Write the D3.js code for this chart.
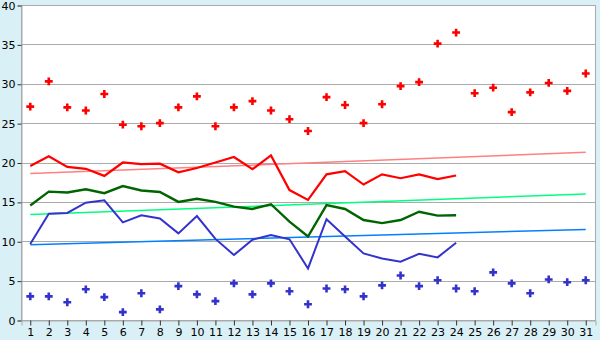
<!DOCTYPE html>
<html>
<head>
<meta charset="utf-8">
<script src="https://cdn.jsdelivr.net/npm/d3@7/dist/d3.min.js"></script>
<style>
  html, body { margin: 0; padding: 0; background: #d9f0f6; }
  svg { display: block; }
  text { font-family: "DejaVu Sans", Verdana, sans-serif; font-size: 11px; fill: #000; }
</style>
</head>
<body>
<svg id="chart" width="600" height="340"></svg>
<script>
// Days of the month
const days = d3.range(1, 32);
const yTicks = [0, 5, 10, 15, 20, 25, 30, 35, 40];

// Daily maximum and minimum readings
const maxPoints = [27.1, 30.3, 27.0, 26.6, 28.7, 24.8, 24.6, 25.0, 27.0, 28.4,
                   24.6, 27.0, 27.8, 26.6, 25.5, 24.0, 28.3, 27.3, 25.0, 27.4,
                   29.7, 30.2, 35.1, 36.5, 28.8, 29.5, 26.4, 28.9, 30.1, 29.1, 31.3];
const minPoints = [3.0, 3.0, 2.25, 3.9, 2.9, 1.0, 3.4, 1.35, 4.3, 3.25,
                   2.4, 4.65, 3.25, 4.65, 3.65, 2.0, 4.0, 3.9, 3.0, 4.4,
                   5.65, 4.3, 5.05, 4.0, 3.65, 6.05, 4.65, 3.4, 5.15, 4.8, 5.05];

// Running lines (first 24 days)
const redLine   = [19.55, 20.8, 19.45, 19.2, 18.3, 20.0, 19.8, 19.85, 18.75, 19.3,
                   20.0, 20.7, 19.15, 20.9, 16.5, 15.25, 18.5, 18.9, 17.2, 18.5,
                   18.0, 18.5, 17.9, 18.35];
const greenLine = [14.55, 16.3, 16.2, 16.6, 16.1, 17.0, 16.45, 16.25, 15.0, 15.4,
                   15.0, 14.4, 14.1, 14.7, 12.5, 10.6, 14.6, 14.1, 12.7, 12.3,
                   12.7, 13.75, 13.25, 13.3];
const blueLine  = [9.65, 13.5, 13.6, 14.9, 15.2, 12.4, 13.3, 12.9, 11.0, 13.2,
                   10.3, 8.25, 10.2, 10.8, 10.25, 6.55, 12.8, 10.6, 8.45, 7.8,
                   7.4, 8.4, 7.95, 9.8];

// Long-term reference lines: [value on day 1, value on day 31]
const redTrend   = [18.6, 21.3];
const greenTrend = [13.4, 16.0];
const blueTrend  = [9.55, 11.5];

const W = 600, H = 340;
const m = { left: 21, top: 5, right: 5, bottom: 20 };
const svg = d3.select("#chart");

const x = d3.scaleBand().domain(days).range([m.left, W - m.right]);
const xc = d => x(d) + x.bandwidth() / 2;
const y = d3.scaleLinear().domain([0, 40]).range([H - m.bottom, m.top]);

// Plot area
svg.append("rect")
  .attr("x", m.left + 0.5).attr("y", m.top + 0.5)
  .attr("width", W - m.left - m.right).attr("height", H - m.top - m.bottom)
  .attr("fill", "#fff").attr("stroke", "#aaa").attr("stroke-width", 1);

// Horizontal grid
svg.append("g").selectAll("line").data(yTicks.filter(v => v > 0 && v < 40)).join("line")
  .attr("x1", m.left).attr("x2", W - m.right)
  .attr("y1", d => Math.round(y(d)) + 0.5).attr("y2", d => Math.round(y(d)) + 0.5)
  .attr("stroke", "#aaa").attr("stroke-width", 1);

// Axes
const yAxis = svg.append("g").attr("transform", `translate(${m.left + 0.5},0.5)`)
  .call(d3.axisLeft(y).tickValues(yTicks).tickSize(4).tickPadding(2));
const xAxis = svg.append("g").attr("transform", `translate(0.5,${H - m.bottom + 0.5})`)
  .call(d3.axisBottom(x).tickSize(5).tickPadding(3));
[yAxis, xAxis].forEach(g => {
  g.select(".domain").attr("stroke", "#aaa");
  g.selectAll(".tick line").attr("stroke", "#333");
  g.selectAll(".tick text").attr("fill", "#000")
    .style("font-family", "DejaVu Sans, Verdana, sans-serif").style("font-size", "11px");
});

// Reference lines
const trend = (vals, color) => svg.append("line")
  .attr("x1", xc(1)).attr("x2", xc(31))
  .attr("y1", y(vals[0])).attr("y2", y(vals[1]))
  .attr("stroke", color).attr("stroke-width", 1.5);
trend(redTrend, "#ff8080");
trend(greenTrend, "#00ff80");
trend(blueTrend, "#0080ff");

// Running lines
const lineGen = d3.line().x((d, i) => xc(days[i])).y(d => y(d));
const drawLine = (vals, color, w) => svg.append("path")
  .datum(vals).attr("d", lineGen)
  .attr("fill", "none").attr("stroke", color).attr("stroke-width", w)
  .attr("stroke-linejoin", "miter");
drawLine(redLine, "#ff0000", 2.2);
drawLine(greenLine, "#006400", 2.4);
drawLine(blueLine, "#3333cc", 2);

// Daily extremes as markers
const sym = d3.symbol().type(d3.symbolCross).size(34);
const drawPts = (vals, color) => svg.append("g").selectAll("path").data(vals).join("path")
  .attr("transform", (d, i) => `translate(${xc(days[i])},${y(d)})`)
  .attr("d", sym).attr("fill", color);
drawPts(maxPoints, "#ff0000");
drawPts(minPoints, "#3333cc");
</script>
</body>
</html>
